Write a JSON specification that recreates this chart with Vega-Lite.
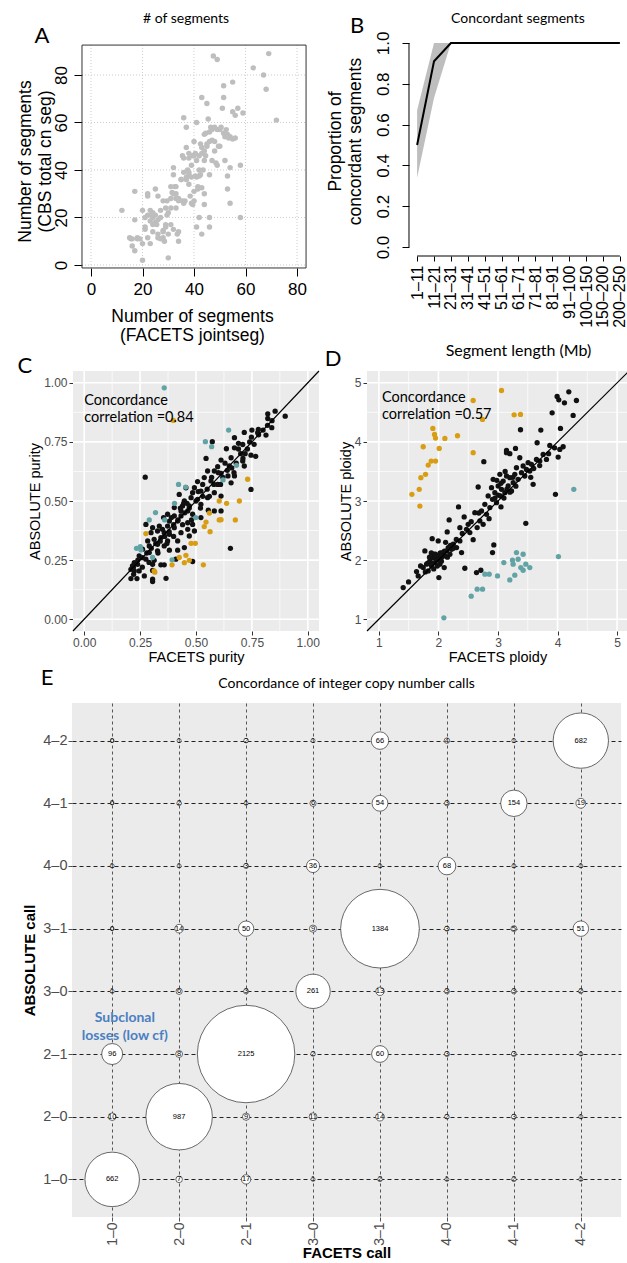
{
"$schema": "https://vega.github.io/schema/vega-lite/v6.json",
"background": "white",
"padding": {"left": 16, "top": 11, "right": 0, "bottom": 0},
"config": {
  "view": {"stroke": null},
  "axis": {"labelFont": "Liberation Sans", "titleFont": "Liberation Sans", "titleFontWeight": "normal", "labelFlush": false, "labelOverlap": false},
  "text": {"font": "Lato"}
},
"datasets": {
  "gridA": [{"t":0},{"t":20},{"t":40},{"t":60},{"t":80}],
  "segA": [
{"x":12,"y":23},{"x":15,"y":11.5},{"x":15.5,"y":11},{"x":16,"y":8},{"x":17,"y":6},{"x":17,"y":19},{"x":17,"y":31},{"x":18,"y":11.5},{"x":20,"y":2},{"x":20,"y":9},{"x":20,"y":23},{"x":21,"y":16},{"x":21,"y":15},{"x":22,"y":30},{"x":22,"y":29},{"x":22,"y":21},{"x":22,"y":11.5},{"x":23,"y":9},{"x":23,"y":23},{"x":23,"y":18.5},{"x":24,"y":14},{"x":24,"y":20},{"x":24.5,"y":21},{"x":25,"y":32},{"x":25,"y":18},{"x":25.5,"y":17},{"x":26,"y":13},{"x":26,"y":29},{"x":26,"y":11.5},{"x":27,"y":23},{"x":28,"y":14},{"x":28,"y":27},{"x":28,"y":11.5},{"x":28.5,"y":10},{"x":29,"y":17},{"x":29,"y":24},{"x":29.5,"y":21},{"x":29.5,"y":27},{"x":30,"y":3},{"x":30,"y":13},{"x":31,"y":33},{"x":31,"y":24},{"x":31,"y":17},{"x":31.5,"y":30.5},{"x":32,"y":38},{"x":32,"y":15},{"x":32,"y":41},{"x":32.5,"y":33},{"x":33,"y":24},{"x":33,"y":28},{"x":33.5,"y":13},{"x":34,"y":28},{"x":34,"y":10},{"x":34,"y":14},{"x":35,"y":36},{"x":35.5,"y":46},{"x":35.5,"y":27},{"x":36,"y":62},{"x":36,"y":39},{"x":36.5,"y":27},{"x":37,"y":58},{"x":37,"y":49.5},{"x":37,"y":37},{"x":37.5,"y":40},{"x":38,"y":47},{"x":38,"y":38},{"x":38,"y":34},{"x":38.5,"y":29},{"x":39,"y":26},{"x":39,"y":42},{"x":39.5,"y":46},{"x":39.5,"y":25.5},{"x":40,"y":31},{"x":40,"y":52},{"x":40.5,"y":37.5},{"x":40.5,"y":47},{"x":41,"y":60},{"x":41,"y":16},{"x":41,"y":44},{"x":41.5,"y":33},{"x":41.5,"y":32},{"x":42,"y":20},{"x":42,"y":37.5},{"x":42.5,"y":51},{"x":42.5,"y":38},{"x":43,"y":70.5},{"x":43,"y":13},{"x":43,"y":49.5},{"x":43,"y":32.5},{"x":43.5,"y":40},{"x":44,"y":44},{"x":44,"y":30},{"x":44,"y":25.5},{"x":44.5,"y":55.5},{"x":44.5,"y":46},{"x":45,"y":68},{"x":45,"y":51},{"x":45.5,"y":61.5},{"x":46,"y":38},{"x":46,"y":16},{"x":46,"y":20},{"x":46.5,"y":58},{"x":47,"y":52.5},{"x":47,"y":44},{"x":47.5,"y":88},{"x":48,"y":48},{"x":48.5,"y":43},{"x":49,"y":86.5},{"x":49,"y":57},{"x":49.5,"y":50},{"x":50.5,"y":58},{"x":51,"y":66},{"x":51.5,"y":55.5},{"x":51.5,"y":75.5},{"x":51.5,"y":70.5},{"x":52,"y":44},{"x":52.5,"y":55},{"x":52.5,"y":57},{"x":53,"y":37.5},{"x":53,"y":32},{"x":53.5,"y":53.5},{"x":54,"y":41},{"x":54,"y":26},{"x":55,"y":77},{"x":55,"y":64.5},{"x":56,"y":63},{"x":56,"y":53.5},{"x":57,"y":66},{"x":58,"y":42},{"x":58,"y":20},{"x":59,"y":64},{"x":63,"y":83},{"x":67,"y":80},{"x":68,"y":74},{"x":69,"y":89},{"x":72,"y":61},
{"x":19,"y":11},{"x":23,"y":21},{"x":24,"y":17},{"x":25,"y":21},{"x":26,"y":19},{"x":27,"y":11},{"x":28,"y":14.5},{"x":30,"y":22},{"x":29,"y":16},{"x":32,"y":30},{"x":33,"y":33},{"x":36,"y":26},{"x":38,"y":45},{"x":40,"y":46},{"x":42,"y":40},{"x":43,"y":47},{"x":46,"y":52},{"x":47,"y":57},{"x":48,"y":52},{"x":50,"y":57},{"x":52,"y":54},{"x":53,"y":55},{"x":54,"y":54},{"x":45,"y":50},{"x":44,"y":55},{"x":41,"y":37},{"x":39,"y":37},{"x":40,"y":27},{"x":37,"y":36},{"x":35,"y":36},{"x":33,"y":30},{"x":24,"y":22},{"x":18,"y":11},{"x":16,"y":11},{"x":21,"y":20},{"x":27,"y":20},{"x":31,"y":28},{"x":34,"y":27},{"x":36,"y":45},{"x":38,"y":39},{"x":42,"y":46},{"x":44,"y":48},{"x":46,"y":56},{"x":48,"y":58},{"x":49,"y":42},{"x":50,"y":50},{"x":53,"y":54},{"x":55,"y":53}
  ],
  "propB": [
{"len":"1–11","i":1,"p":0.5,"lo":0.34,"hi":0.67},
{"len":"11–21","i":2,"p":0.91,"lo":0.73,"hi":1.0},
{"len":"21–31","i":3,"p":1,"lo":1,"hi":1},
{"len":"31–41","i":4,"p":1,"lo":1,"hi":1},
{"len":"41–51","i":5,"p":1,"lo":1,"hi":1},
{"len":"51–61","i":6,"p":1,"lo":1,"hi":1},
{"len":"61–71","i":7,"p":1,"lo":1,"hi":1},
{"len":"71–81","i":8,"p":1,"lo":1,"hi":1},
{"len":"81–91","i":9,"p":1,"lo":1,"hi":1},
{"len":"91–100","i":10,"p":1,"lo":1,"hi":1},
{"len":"100–150","i":11,"p":1,"lo":1,"hi":1},
{"len":"150–200","i":12,"p":1,"lo":1,"hi":1},
{"len":"200–250","i":13,"p":1,"lo":1,"hi":1}
  ],
  "majorC": [{"v":0},{"v":0.25},{"v":0.5},{"v":0.75},{"v":1}],
  "minorC": [{"v":0.125},{"v":0.375},{"v":0.625},{"v":0.875}],
  "majorD": [{"v":1},{"v":2},{"v":3},{"v":4},{"v":5}],
  "minorD": [{"v":1.5},{"v":2.5},{"v":3.5},{"v":4.5}],
  "purityC": [
{"x":0.273,"y":0.601,"grp":"concordant"},{"x":0.654,"y":0.300,"grp":"concordant"},{"x":0.899,"y":0.859,"grp":"concordant"},{"x":0.854,"y":0.880,"grp":"concordant"},{"x":0.821,"y":0.869,"grp":"concordant"},{"x":0.821,"y":0.849,"grp":"concordant"},{"x":0.839,"y":0.810,"grp":"concordant"},{"x":0.779,"y":0.803,"grp":"concordant"},{"x":0.776,"y":0.789,"grp":"concordant"},{"x":0.813,"y":0.779,"grp":"concordant"},{"x":0.716,"y":0.790,"grp":"concordant"},{"x":0.748,"y":0.770,"grp":"concordant"},{"x":0.672,"y":0.768,"grp":"concordant"},{"x":0.690,"y":0.744,"grp":"concordant"},{"x":0.709,"y":0.739,"grp":"concordant"},{"x":0.573,"y":0.751,"grp":"concordant"},{"x":0.636,"y":0.721,"grp":"concordant"},{"x":0.672,"y":0.725,"grp":"concordant"},{"x":0.746,"y":0.694,"grp":"concordant"},{"x":0.767,"y":0.689,"grp":"concordant"},{"x":0.746,"y":0.549,"grp":"concordant"},{"x":0.545,"y":0.680,"grp":"concordant"},{"x":0.612,"y":0.673,"grp":"concordant"},{"x":0.657,"y":0.683,"grp":"concordant"},{"x":0.709,"y":0.669,"grp":"concordant"},{"x":0.716,"y":0.648,"grp":"concordant"},{"x":0.649,"y":0.648,"grp":"concordant"},{"x":0.597,"y":0.645,"grp":"concordant"},{"x":0.582,"y":0.627,"grp":"concordant"},{"x":0.552,"y":0.627,"grp":"concordant"},{"x":0.612,"y":0.617,"grp":"concordant"},{"x":0.643,"y":0.606,"grp":"concordant"},{"x":0.672,"y":0.606,"grp":"concordant"},{"x":0.537,"y":0.599,"grp":"concordant"},{"x":0.567,"y":0.585,"grp":"concordant"},{"x":0.507,"y":0.582,"grp":"concordant"},{"x":0.530,"y":0.570,"grp":"concordant"},{"x":0.597,"y":0.570,"grp":"concordant"},{"x":0.657,"y":0.577,"grp":"concordant"},{"x":0.522,"y":0.542,"grp":"concordant"},{"x":0.485,"y":0.535,"grp":"concordant"},{"x":0.582,"y":0.535,"grp":"concordant"},{"x":0.478,"y":0.514,"grp":"concordant"},{"x":0.552,"y":0.514,"grp":"concordant"},{"x":0.612,"y":0.521,"grp":"concordant"},{"x":0.507,"y":0.507,"grp":"concordant"},{"x":0.448,"y":0.500,"grp":"concordant"},{"x":0.440,"y":0.479,"grp":"concordant"},{"x":0.470,"y":0.479,"grp":"concordant"},{"x":0.522,"y":0.486,"grp":"concordant"},{"x":0.403,"y":0.472,"grp":"concordant"},{"x":0.433,"y":0.458,"grp":"concordant"},{"x":0.463,"y":0.458,"grp":"concordant"},{"x":0.612,"y":0.458,"grp":"concordant"},{"x":0.373,"y":0.444,"grp":"concordant"},{"x":0.403,"y":0.437,"grp":"concordant"},{"x":0.433,"y":0.437,"grp":"concordant"},{"x":0.485,"y":0.444,"grp":"concordant"},{"x":0.522,"y":0.430,"grp":"concordant"},{"x":0.355,"y":0.430,"grp":"concordant"},{"x":0.381,"y":0.415,"grp":"concordant"},{"x":0.418,"y":0.415,"grp":"concordant"},{"x":0.463,"y":0.408,"grp":"concordant"},{"x":0.485,"y":0.401,"grp":"concordant"},{"x":0.373,"y":0.394,"grp":"concordant"},{"x":0.336,"y":0.394,"grp":"concordant"},{"x":0.306,"y":0.387,"grp":"concordant"},{"x":0.403,"y":0.387,"grp":"concordant"},{"x":0.463,"y":0.380,"grp":"concordant"},{"x":0.493,"y":0.373,"grp":"concordant"},{"x":0.328,"y":0.373,"grp":"concordant"},{"x":0.358,"y":0.366,"grp":"concordant"},{"x":0.299,"y":0.366,"grp":"concordant"},{"x":0.276,"y":0.401,"grp":"concordant"},{"x":0.381,"y":0.359,"grp":"concordant"},{"x":0.433,"y":0.366,"grp":"concordant"},{"x":0.470,"y":0.352,"grp":"concordant"},{"x":0.343,"y":0.345,"grp":"concordant"},{"x":0.313,"y":0.338,"grp":"concordant"},{"x":0.284,"y":0.331,"grp":"concordant"},{"x":0.373,"y":0.331,"grp":"concordant"},{"x":0.418,"y":0.331,"grp":"concordant"},{"x":0.291,"y":0.310,"grp":"concordant"},{"x":0.328,"y":0.317,"grp":"concordant"},{"x":0.358,"y":0.310,"grp":"concordant"},{"x":0.381,"y":0.292,"grp":"concordant"},{"x":0.418,"y":0.292,"grp":"concordant"},{"x":0.261,"y":0.296,"grp":"concordant"},{"x":0.291,"y":0.282,"grp":"concordant"},{"x":0.328,"y":0.289,"grp":"concordant"},{"x":0.246,"y":0.268,"grp":"concordant"},{"x":0.276,"y":0.254,"grp":"concordant"},{"x":0.313,"y":0.249,"grp":"concordant"},{"x":0.224,"y":0.239,"grp":"concordant"},{"x":0.239,"y":0.232,"grp":"concordant"},{"x":0.216,"y":0.225,"grp":"concordant"},{"x":0.306,"y":0.232,"grp":"concordant"},{"x":0.343,"y":0.230,"grp":"concordant"},{"x":0.358,"y":0.230,"grp":"concordant"},{"x":0.209,"y":0.211,"grp":"concordant"},{"x":0.224,"y":0.204,"grp":"concordant"},{"x":0.246,"y":0.204,"grp":"concordant"},{"x":0.306,"y":0.206,"grp":"concordant"},{"x":0.221,"y":0.190,"grp":"concordant"},{"x":0.269,"y":0.183,"grp":"concordant"},{"x":0.209,"y":0.172,"grp":"concordant"},{"x":0.236,"y":0.172,"grp":"concordant"},{"x":0.306,"y":0.169,"grp":"concordant"},{"x":0.306,"y":0.159,"grp":"concordant"},{"x":0.366,"y":0.173,"grp":"concordant"},{"x":0.485,"y":0.244,"grp":"concordant"},{"x":0.448,"y":0.303,"grp":"concordant"},{"x":0.410,"y":0.254,"grp":"concordant"},{"x":0.425,"y":0.528,"grp":"concordant"},{"x":0.455,"y":0.556,"grp":"concordant"},{"x":0.493,"y":0.556,"grp":"concordant"},{"x":0.445,"y":0.490,"grp":"concordant"},{"x":0.582,"y":0.458,"grp":"concordant"},{"x":0.555,"y":0.461,"grp":"concordant"},
{"x":0.62,"y":0.60,"grp":"concordant"},{"x":0.64,"y":0.63,"grp":"concordant"},{"x":0.68,"y":0.66,"grp":"concordant"},{"x":0.70,"y":0.70,"grp":"concordant"},{"x":0.73,"y":0.72,"grp":"concordant"},{"x":0.74,"y":0.75,"grp":"concordant"},{"x":0.76,"y":0.74,"grp":"concordant"},{"x":0.78,"y":0.78,"grp":"concordant"},{"x":0.80,"y":0.80,"grp":"concordant"},{"x":0.82,"y":0.82,"grp":"concordant"},{"x":0.66,"y":0.64,"grp":"concordant"},{"x":0.60,"y":0.62,"grp":"concordant"},{"x":0.58,"y":0.57,"grp":"concordant"},{"x":0.55,"y":0.55,"grp":"concordant"},{"x":0.53,"y":0.52,"grp":"concordant"},{"x":0.50,"y":0.50,"grp":"concordant"},{"x":0.47,"y":0.47,"grp":"concordant"},{"x":0.45,"y":0.45,"grp":"concordant"},{"x":0.42,"y":0.42,"grp":"concordant"},{"x":0.40,"y":0.40,"grp":"concordant"},{"x":0.38,"y":0.37,"grp":"concordant"},{"x":0.36,"y":0.35,"grp":"concordant"},{"x":0.34,"y":0.33,"grp":"concordant"},{"x":0.32,"y":0.32,"grp":"concordant"},{"x":0.30,"y":0.30,"grp":"concordant"},{"x":0.28,"y":0.28,"grp":"concordant"},{"x":0.26,"y":0.26,"grp":"concordant"},{"x":0.24,"y":0.25,"grp":"concordant"},{"x":0.22,"y":0.22,"grp":"concordant"},{"x":0.35,"y":0.38,"grp":"concordant"},{"x":0.39,"y":0.43,"grp":"concordant"},{"x":0.43,"y":0.47,"grp":"concordant"},{"x":0.46,"y":0.49,"grp":"concordant"},{"x":0.51,"y":0.54,"grp":"concordant"},{"x":0.57,"y":0.60,"grp":"concordant"},{"x":0.63,"y":0.66,"grp":"concordant"},{"x":0.69,"y":0.72,"grp":"concordant"},{"x":0.71,"y":0.68,"grp":"concordant"},{"x":0.67,"y":0.62,"grp":"concordant"},{"x":0.61,"y":0.57,"grp":"concordant"},{"x":0.56,"y":0.52,"grp":"concordant"},{"x":0.52,"y":0.47,"grp":"concordant"},{"x":0.48,"y":0.42,"grp":"concordant"},{"x":0.44,"y":0.40,"grp":"concordant"},{"x":0.40,"y":0.35,"grp":"concordant"},{"x":0.37,"y":0.32,"grp":"concordant"},{"x":0.33,"y":0.28,"grp":"concordant"},{"x":0.29,"y":0.24,"grp":"concordant"},{"x":0.26,"y":0.22,"grp":"concordant"},{"x":0.84,"y":0.84,"grp":"concordant"},{"x":0.72,"y":0.70,"grp":"concordant"},{"x":0.75,"y":0.80,"grp":"concordant"},
{"x":0.358,"y":0.979,"grp":"discordant1"},{"x":0.542,"y":0.751,"grp":"discordant1"},{"x":0.570,"y":0.730,"grp":"discordant1"},{"x":0.646,"y":0.800,"grp":"discordant1"},{"x":0.681,"y":0.651,"grp":"discordant1"},{"x":0.621,"y":0.589,"grp":"discordant1"},{"x":0.422,"y":0.570,"grp":"discordant1"},{"x":0.454,"y":0.559,"grp":"discordant1"},{"x":0.404,"y":0.490,"grp":"discordant1"},{"x":0.319,"y":0.451,"grp":"discordant1"},{"x":0.291,"y":0.420,"grp":"discordant1"},{"x":0.360,"y":0.420,"grp":"discordant1"},{"x":0.499,"y":0.430,"grp":"discordant1"},{"x":0.251,"y":0.307,"grp":"discordant1"},{"x":0.234,"y":0.300,"grp":"discordant1"},{"x":0.254,"y":0.293,"grp":"discordant1"},{"x":0.306,"y":0.261,"grp":"discordant1"},{"x":0.393,"y":0.251,"grp":"discordant1"},
{"x":0.399,"y":0.841,"grp":"discordant2"},{"x":0.731,"y":0.592,"grp":"discordant2"},{"x":0.694,"y":0.500,"grp":"discordant2"},{"x":0.604,"y":0.500,"grp":"discordant2"},{"x":0.637,"y":0.490,"grp":"discordant2"},{"x":0.560,"y":0.449,"grp":"discordant2"},{"x":0.545,"y":0.411,"grp":"discordant2"},{"x":0.537,"y":0.392,"grp":"discordant2"},{"x":0.563,"y":0.370,"grp":"discordant2"},{"x":0.612,"y":0.421,"grp":"discordant2"},{"x":0.604,"y":0.420,"grp":"discordant2"},{"x":0.676,"y":0.420,"grp":"discordant2"},{"x":0.276,"y":0.362,"grp":"discordant2"},{"x":0.478,"y":0.321,"grp":"discordant2"},{"x":0.497,"y":0.321,"grp":"discordant2"},{"x":0.455,"y":0.270,"grp":"discordant2"},{"x":0.425,"y":0.261,"grp":"discordant2"},{"x":0.448,"y":0.239,"grp":"discordant2"},{"x":0.470,"y":0.249,"grp":"discordant2"},{"x":0.393,"y":0.230,"grp":"discordant2"},{"x":0.533,"y":0.230,"grp":"discordant2"},{"x":0.313,"y":0.204,"grp":"discordant2"},{"x":0.316,"y":0.199,"grp":"discordant2"}
  ],
  "ploidyD": [
{"x":1.408,"y":1.535,"grp":"concordant"},{"x":1.498,"y":1.631,"grp":"concordant"},{"x":1.660,"y":1.732,"grp":"concordant"},{"x":1.772,"y":2.155,"grp":"concordant"},{"x":1.895,"y":2.363,"grp":"concordant"},{"x":1.996,"y":2.324,"grp":"concordant"},{"x":2.097,"y":1.873,"grp":"concordant"},{"x":2.007,"y":1.704,"grp":"concordant"},{"x":2.180,"y":2.679,"grp":"concordant"},{"x":2.147,"y":2.476,"grp":"concordant"},{"x":2.337,"y":2.899,"grp":"concordant"},{"x":2.432,"y":2.730,"grp":"concordant"},{"x":2.443,"y":1.862,"grp":"concordant"},{"x":2.583,"y":2.346,"grp":"concordant"},{"x":2.667,"y":3.237,"grp":"concordant"},{"x":2.678,"y":2.797,"grp":"concordant"},{"x":2.762,"y":3.665,"grp":"concordant"},{"x":2.930,"y":2.256,"grp":"concordant"},{"x":2.908,"y":2.127,"grp":"concordant"},{"x":2.639,"y":1.789,"grp":"concordant"},{"x":2.712,"y":1.828,"grp":"concordant"},{"x":3.378,"y":4.206,"grp":"concordant"},{"x":3.467,"y":2.623,"grp":"concordant"},{"x":3.909,"y":4.493,"grp":"concordant"},{"x":3.993,"y":4.769,"grp":"concordant"},{"x":4.021,"y":4.713,"grp":"concordant"},{"x":4.116,"y":4.662,"grp":"concordant"},{"x":4.189,"y":4.848,"grp":"concordant"},{"x":4.262,"y":4.448,"grp":"concordant"},{"x":4.317,"y":4.701,"grp":"concordant"},{"x":4.049,"y":4.228,"grp":"concordant"},{"x":3.965,"y":3.113,"grp":"concordant"},{"x":4.094,"y":3.918,"grp":"concordant"},{"x":4.010,"y":3.744,"grp":"concordant"},{"x":3.870,"y":3.941,"grp":"concordant"},{"x":4.038,"y":3.873,"grp":"concordant"},{"x":3.719,"y":4.200,"grp":"concordant"},{"x":3.657,"y":3.986,"grp":"concordant"},{"x":3.294,"y":3.890,"grp":"concordant"},{"x":3.143,"y":3.856,"grp":"concordant"},{"x":3.143,"y":3.817,"grp":"concordant"},{"x":3.199,"y":3.800,"grp":"concordant"},
{"x":1.744,"y":1.873,"grp":"concordant"},{"x":1.800,"y":1.930,"grp":"concordant"},{"x":1.828,"y":1.817,"grp":"concordant"},{"x":1.856,"y":1.986,"grp":"concordant"},{"x":1.884,"y":1.901,"grp":"concordant"},{"x":1.912,"y":2.042,"grp":"concordant"},{"x":1.923,"y":2.099,"grp":"concordant"},{"x":1.940,"y":1.958,"grp":"concordant"},{"x":1.968,"y":2.014,"grp":"concordant"},{"x":1.996,"y":2.070,"grp":"concordant"},{"x":2.024,"y":1.930,"grp":"concordant"},{"x":2.052,"y":2.042,"grp":"concordant"},{"x":2.069,"y":2.127,"grp":"concordant"},{"x":2.108,"y":2.070,"grp":"concordant"},{"x":2.136,"y":2.155,"grp":"concordant"},{"x":2.164,"y":2.211,"grp":"concordant"},{"x":2.192,"y":2.099,"grp":"concordant"},{"x":2.220,"y":2.183,"grp":"concordant"},{"x":2.248,"y":2.268,"grp":"concordant"},{"x":2.304,"y":2.211,"grp":"concordant"},{"x":2.360,"y":2.324,"grp":"concordant"},{"x":2.388,"y":2.127,"grp":"concordant"},{"x":2.471,"y":2.521,"grp":"concordant"},{"x":2.499,"y":2.606,"grp":"concordant"},{"x":2.527,"y":2.465,"grp":"concordant"},{"x":2.611,"y":2.803,"grp":"concordant"},{"x":2.695,"y":2.662,"grp":"concordant"},{"x":2.723,"y":2.831,"grp":"concordant"},{"x":2.751,"y":2.606,"grp":"concordant"},{"x":2.779,"y":2.944,"grp":"concordant"},{"x":2.807,"y":2.775,"grp":"concordant"},{"x":2.835,"y":3.085,"grp":"concordant"},{"x":2.863,"y":2.887,"grp":"concordant"},{"x":2.891,"y":3.225,"grp":"concordant"},{"x":2.908,"y":3.028,"grp":"concordant"},{"x":2.919,"y":3.366,"grp":"concordant"},{"x":2.947,"y":3.141,"grp":"concordant"},{"x":2.975,"y":2.972,"grp":"concordant"},{"x":3.003,"y":3.254,"grp":"concordant"},{"x":3.031,"y":3.451,"grp":"concordant"},{"x":3.042,"y":3.085,"grp":"concordant"},{"x":3.059,"y":3.197,"grp":"concordant"},{"x":3.087,"y":3.338,"grp":"concordant"},{"x":3.115,"y":3.141,"grp":"concordant"},{"x":3.143,"y":3.423,"grp":"concordant"},{"x":3.171,"y":3.254,"grp":"concordant"},{"x":3.199,"y":3.394,"grp":"concordant"},{"x":3.227,"y":3.169,"grp":"concordant"},{"x":3.255,"y":3.310,"grp":"concordant"},{"x":3.282,"y":3.451,"grp":"concordant"},{"x":3.310,"y":3.563,"grp":"concordant"},{"x":3.338,"y":3.366,"grp":"concordant"},{"x":3.366,"y":3.732,"grp":"concordant"},{"x":3.394,"y":3.479,"grp":"concordant"},{"x":3.422,"y":3.592,"grp":"concordant"},{"x":3.450,"y":3.423,"grp":"concordant"},{"x":3.478,"y":3.535,"grp":"concordant"},{"x":3.506,"y":3.648,"grp":"concordant"},{"x":3.534,"y":3.507,"grp":"concordant"},{"x":3.562,"y":3.620,"grp":"concordant"},{"x":3.590,"y":3.282,"grp":"concordant"},{"x":3.646,"y":3.704,"grp":"concordant"},{"x":3.702,"y":3.676,"grp":"concordant"},{"x":3.758,"y":3.789,"grp":"concordant"},{"x":3.814,"y":3.704,"grp":"concordant"},{"x":2.360,"y":2.549,"grp":"concordant"},{"x":1.632,"y":1.806,"grp":"concordant"},{"x":1.70,"y":1.90,"grp":"concordant"},{"x":1.78,"y":1.80,"grp":"concordant"},
{"x":1.85,"y":2.05,"grp":"concordant"},{"x":1.90,"y":1.95,"grp":"concordant"},{"x":1.95,"y":2.10,"grp":"concordant"},{"x":2.00,"y":2.00,"grp":"concordant"},{"x":2.05,"y":1.98,"grp":"concordant"},{"x":2.10,"y":2.15,"grp":"concordant"},{"x":2.15,"y":2.05,"grp":"concordant"},{"x":2.20,"y":2.25,"grp":"concordant"},{"x":1.92,"y":1.85,"grp":"concordant"},{"x":1.98,"y":1.90,"grp":"concordant"},{"x":2.03,"y":2.12,"grp":"concordant"},{"x":1.88,"y":2.12,"grp":"concordant"},{"x":1.82,"y":1.95,"grp":"concordant"},{"x":2.12,"y":2.30,"grp":"concordant"},{"x":2.25,"y":2.20,"grp":"concordant"},{"x":2.30,"y":2.35,"grp":"concordant"},{"x":2.40,"y":2.45,"grp":"concordant"},{"x":2.95,"y":3.05,"grp":"concordant"},{"x":3.00,"y":3.10,"grp":"concordant"},{"x":3.05,"y":3.30,"grp":"concordant"},{"x":3.10,"y":3.05,"grp":"concordant"},{"x":3.15,"y":3.20,"grp":"concordant"},{"x":3.20,"y":3.15,"grp":"concordant"},{"x":3.25,"y":3.40,"grp":"concordant"},{"x":3.30,"y":3.25,"grp":"concordant"},{"x":3.05,"y":2.90,"grp":"concordant"},{"x":2.98,"y":3.35,"grp":"concordant"},{"x":3.12,"y":3.50,"grp":"concordant"},{"x":3.60,"y":3.55,"grp":"concordant"},{"x":3.70,"y":3.60,"grp":"concordant"},{"x":3.85,"y":3.80,"grp":"concordant"},{"x":3.95,"y":3.90,"grp":"concordant"},{"x":3.55,"y":3.40,"grp":"concordant"},{"x":2.85,"y":2.70,"grp":"concordant"},{"x":2.65,"y":2.55,"grp":"concordant"},{"x":2.55,"y":2.65,"grp":"concordant"},
{"x":4.273,"y":3.197,"grp":"discordant1"},{"x":4.015,"y":2.059,"grp":"discordant1"},{"x":3.310,"y":2.127,"grp":"discordant1"},{"x":3.422,"y":2.099,"grp":"discordant1"},{"x":3.243,"y":1.997,"grp":"discordant1"},{"x":3.338,"y":2.014,"grp":"discordant1"},{"x":3.098,"y":1.958,"grp":"discordant1"},{"x":3.254,"y":1.930,"grp":"discordant1"},{"x":3.467,"y":1.930,"grp":"discordant1"},{"x":3.534,"y":1.873,"grp":"discordant1"},{"x":3.383,"y":1.873,"grp":"discordant1"},{"x":3.422,"y":1.828,"grp":"discordant1"},{"x":2.779,"y":1.761,"grp":"discordant1"},{"x":2.852,"y":1.761,"grp":"discordant1"},{"x":2.992,"y":1.732,"grp":"discordant1"},{"x":3.282,"y":1.744,"grp":"discordant1"},{"x":3.198,"y":1.665,"grp":"discordant1"},{"x":2.650,"y":1.507,"grp":"discordant1"},{"x":2.740,"y":1.507,"grp":"discordant1"},{"x":2.550,"y":1.389,"grp":"discordant1"},{"x":2.091,"y":1.023,"grp":"discordant1"},
{"x":1.554,"y":3.113,"grp":"discordant2"},{"x":1.677,"y":3.197,"grp":"discordant2"},{"x":1.688,"y":2.915,"grp":"discordant2"},{"x":1.705,"y":3.394,"grp":"discordant2"},{"x":1.783,"y":3.451,"grp":"discordant2"},{"x":1.744,"y":3.918,"grp":"discordant2"},{"x":1.828,"y":3.608,"grp":"discordant2"},{"x":1.878,"y":3.676,"grp":"discordant2"},{"x":1.951,"y":3.676,"grp":"discordant2"},{"x":1.906,"y":4.228,"grp":"discordant2"},{"x":1.934,"y":4.127,"grp":"discordant2"},{"x":1.951,"y":4.065,"grp":"discordant2"},{"x":2.013,"y":3.890,"grp":"discordant2"},{"x":2.108,"y":4.059,"grp":"discordant2"},{"x":2.320,"y":4.104,"grp":"discordant2"},{"x":2.583,"y":3.817,"grp":"discordant2"},{"x":2.583,"y":4.701,"grp":"discordant2"},{"x":3.059,"y":4.870,"grp":"discordant2"},{"x":3.271,"y":4.459,"grp":"discordant2"},{"x":3.378,"y":4.465,"grp":"discordant2"},{"x":2.740,"y":4.380,"grp":"discordant2"}
  ],
  "cnE": [
{"facets":"1–0","absolute":"4–2","fi":1,"ai":8,"n":0},{"facets":"2–0","absolute":"4–2","fi":2,"ai":8,"n":1},{"facets":"2–1","absolute":"4–2","fi":3,"ai":8,"n":2},{"facets":"3–0","absolute":"4–2","fi":4,"ai":8,"n":1},{"facets":"3–1","absolute":"4–2","fi":5,"ai":8,"n":66},{"facets":"4–0","absolute":"4–2","fi":6,"ai":8,"n":4},{"facets":"4–1","absolute":"4–2","fi":7,"ai":8,"n":1},{"facets":"4–2","absolute":"4–2","fi":8,"ai":8,"n":682},
{"facets":"1–0","absolute":"4–1","fi":1,"ai":7,"n":0},{"facets":"2–0","absolute":"4–1","fi":2,"ai":7,"n":2},{"facets":"2–1","absolute":"4–1","fi":3,"ai":7,"n":1},{"facets":"3–0","absolute":"4–1","fi":4,"ai":7,"n":6},{"facets":"3–1","absolute":"4–1","fi":5,"ai":7,"n":54},{"facets":"4–0","absolute":"4–1","fi":6,"ai":7,"n":3},{"facets":"4–1","absolute":"4–1","fi":7,"ai":7,"n":154},{"facets":"4–2","absolute":"4–1","fi":8,"ai":7,"n":19},
{"facets":"1–0","absolute":"4–0","fi":1,"ai":6,"n":1},{"facets":"2–0","absolute":"4–0","fi":2,"ai":6,"n":1},{"facets":"2–1","absolute":"4–0","fi":3,"ai":6,"n":3},{"facets":"3–0","absolute":"4–0","fi":4,"ai":6,"n":36},{"facets":"3–1","absolute":"4–0","fi":5,"ai":6,"n":1},{"facets":"4–0","absolute":"4–0","fi":6,"ai":6,"n":68},{"facets":"4–1","absolute":"4–0","fi":7,"ai":6,"n":1},{"facets":"4–2","absolute":"4–0","fi":8,"ai":6,"n":1},
{"facets":"1–0","absolute":"3–1","fi":1,"ai":5,"n":0},{"facets":"2–0","absolute":"3–1","fi":2,"ai":5,"n":14},{"facets":"2–1","absolute":"3–1","fi":3,"ai":5,"n":50},{"facets":"3–0","absolute":"3–1","fi":4,"ai":5,"n":9},{"facets":"3–1","absolute":"3–1","fi":5,"ai":5,"n":1384},{"facets":"4–0","absolute":"3–1","fi":6,"ai":5,"n":3},{"facets":"4–1","absolute":"3–1","fi":7,"ai":5,"n":5},{"facets":"4–2","absolute":"3–1","fi":8,"ai":5,"n":51},
{"facets":"1–0","absolute":"3–0","fi":1,"ai":4,"n":1},{"facets":"2–0","absolute":"3–0","fi":2,"ai":4,"n":6},{"facets":"2–1","absolute":"3–0","fi":3,"ai":4,"n":3},{"facets":"3–0","absolute":"3–0","fi":4,"ai":4,"n":261},{"facets":"3–1","absolute":"3–0","fi":5,"ai":4,"n":13},{"facets":"4–0","absolute":"3–0","fi":6,"ai":4,"n":3},{"facets":"4–1","absolute":"3–0","fi":7,"ai":4,"n":3},{"facets":"4–2","absolute":"3–0","fi":8,"ai":4,"n":2},
{"facets":"1–0","absolute":"2–1","fi":1,"ai":3,"n":96},{"facets":"2–0","absolute":"2–1","fi":2,"ai":3,"n":8},{"facets":"2–1","absolute":"2–1","fi":3,"ai":3,"n":2125},{"facets":"3–0","absolute":"2–1","fi":4,"ai":3,"n":2},{"facets":"3–1","absolute":"2–1","fi":5,"ai":3,"n":60},{"facets":"4–0","absolute":"2–1","fi":6,"ai":3,"n":3},{"facets":"4–1","absolute":"2–1","fi":7,"ai":3,"n":3},{"facets":"4–2","absolute":"2–1","fi":8,"ai":3,"n":1},
{"facets":"1–0","absolute":"2–0","fi":1,"ai":2,"n":10},{"facets":"2–0","absolute":"2–0","fi":2,"ai":2,"n":987},{"facets":"2–1","absolute":"2–0","fi":3,"ai":2,"n":9},{"facets":"3–0","absolute":"2–0","fi":4,"ai":2,"n":11},{"facets":"3–1","absolute":"2–0","fi":5,"ai":2,"n":14},{"facets":"4–0","absolute":"2–0","fi":6,"ai":2,"n":2},{"facets":"4–1","absolute":"2–0","fi":7,"ai":2,"n":3},{"facets":"4–2","absolute":"2–0","fi":8,"ai":2,"n":1},
{"facets":"1–0","absolute":"1–0","fi":1,"ai":1,"n":662},{"facets":"2–0","absolute":"1–0","fi":2,"ai":1,"n":7},{"facets":"2–1","absolute":"1–0","fi":3,"ai":1,"n":17},{"facets":"3–0","absolute":"1–0","fi":4,"ai":1,"n":1},{"facets":"3–1","absolute":"1–0","fi":5,"ai":1,"n":2},{"facets":"4–0","absolute":"1–0","fi":6,"ai":1,"n":1},{"facets":"4–1","absolute":"1–0","fi":7,"ai":1,"n":2},{"facets":"4–2","absolute":"1–0","fi":8,"ai":1,"n":1}
  ]
},
"bounds": "flush",
"spacing": 72,
"vconcat": [
 {
  "width": 556, "height": 264,
  "resolve": {"scale": {"x": "independent", "y": "independent"}},
  "layer": [
   {"layer": [
     {"data": {"name": "gridA"}, "mark": {"type": "rule", "color": "#cccccc", "strokeDash": [1, 2]},
      "encoding": {
       "x": {"field": "t", "type": "quantitative", "scale": {"domain": [-7.38, 208.5], "nice": false, "zero": false}},
       "y": {"datum": -1.26, "type": "quantitative", "scale": {"domain": [-14.32, 96.84], "nice": false, "zero": false}},
       "y2": {"datum": 92.6}}},
     {"data": {"name": "gridA"}, "mark": {"type": "rule", "color": "#cccccc", "strokeDash": [1, 2]},
      "encoding": {
       "y": {"field": "t", "type": "quantitative"},
       "x": {"datum": -3.5, "type": "quantitative"},
       "x2": {"datum": 83.5}}},
     {"data": {"name": "segA"}, "mark": {"type": "circle", "color": "#bebebe", "opacity": 1, "size": 30},
      "encoding": {
       "x": {"field": "x", "type": "quantitative",
             "axis": {"orient": "bottom", "values": [0, 20, 40, 60, 80], "offset": -31, "labelFontSize": 17, "labelColor": "#000", "labelPadding": 5, "tickColor": "#000", "tickSize": 8, "domain": false, "grid": false,
                      "title": ["Number of segments", "(FACETS jointseg)"], "titleFontSize": 17.5, "titleColor": "#000", "titleLineHeight": 19, "titlePadding": 10, "titleX": 120}},
       "y": {"field": "y", "type": "quantitative",
             "axis": {"orient": "left", "values": [0, 20, 40, 60, 80], "offset": -10, "labelAngle": -90, "labelAlign": "center", "labelBaseline": "bottom", "labelFontSize": 17, "labelColor": "#000", "labelPadding": 4, "tickColor": "#000", "tickSize": 8, "domain": false, "grid": false,
                      "title": ["Number of segments", "(CBS total cn seg)"], "titleFontSize": 17.5, "titleColor": "#000", "titleLineHeight": 20, "titlePadding": -2, "titleY": 126}}}},
     {"data": {"values": [{}]}, "mark": {"type": "rect", "fill": "transparent", "stroke": "#333", "strokeWidth": 1},
      "encoding": {"x": {"datum": -3.5, "type": "quantitative"}, "x2": {"datum": 83.5}, "y": {"datum": -1.26, "type": "quantitative"}, "y2": {"datum": 92.6}}},
     {"data": {"values": [{}]}, "mark": {"type": "text", "text": "A", "fontSize": 22, "align": "center", "baseline": "middle", "fill": "#000"},
      "encoding": {"x": {"datum": -19, "type": "quantitative"}, "y": {"datum": 96.4, "type": "quantitative"}}},
     {"data": {"values": [{}]}, "mark": {"type": "text", "text": "# of segments", "fontSize": 14, "align": "center", "baseline": "middle", "fill": "#000"},
      "encoding": {"x": {"datum": 36.9, "type": "quantitative"}, "y": {"datum": 103.58, "type": "quantitative"}}}
   ]},
   {"layer": [
     {"data": {"name": "propB"}, "mark": {"type": "area", "color": "#bebebe", "opacity": 1},
      "encoding": {
       "x": {"field": "i", "type": "quantitative", "scale": {"domain": [-19.423, 13.48], "nice": false, "zero": false},
             "axis": {"orient": "bottom", "offset": -43, "values": [1,2,3,4,5,6,7,8,9,10,11,12,13], "labelExpr": "['1–11','11–21','21–31','31–41','41–51','51–61','61–71','71–81','81–91','91–100','100–150','150–200','200–250'][datum.value-1]",
                      "labelAngle": -90, "labelAlign": "right", "labelBaseline": "middle", "labelFontSize": 16, "labelColor": "#000", "labelPadding": 4, "tickColor": "#000", "tickSize": 5, "domain": false, "grid": false,
                      "title": "Segment length (Mb)", "titleFont": "Lato", "titleFontSize": 16, "titleColor": "#000", "titleX": 446, "titleY": 86, "titleBaseline": "top", "titleAlign": "center"}},
       "y": {"field": "lo", "type": "quantitative", "scale": {"domain": [-0.2547, 1.039], "nice": false, "zero": false},
             "axis": {"orient": "left", "offset": -337, "values": [0, 0.2, 0.4, 0.6, 0.8, 1], "format": ".1f", "labelAngle": -90, "labelAlign": "center", "labelBaseline": "bottom", "labelFontSize": 17, "labelColor": "#000", "labelPadding": 10, "tickColor": "#000", "tickSize": 7, "domain": false, "grid": false,
                      "title": ["Proportion of", "concordant segments"], "titleFontSize": 17.5, "titleColor": "#000", "titleLineHeight": 20, "titlePadding": 10, "titleY": 106}},
       "y2": {"field": "hi"}}},
     {"data": {"name": "propB"}, "mark": {"type": "line", "color": "#000", "strokeWidth": 2},
      "encoding": {"x": {"field": "i", "type": "quantitative"}, "y": {"field": "p", "type": "quantitative"}}},
     {"data": {"values": [{}]}, "mark": {"type": "rule", "color": "#000", "strokeWidth": 1},
      "encoding": {"x": {"datum": 0.52, "type": "quantitative"}, "y": {"datum": 0.0001, "type": "quantitative"}, "y2": {"datum": 1}}},
     {"data": {"values": [{}]}, "mark": {"type": "rule", "color": "#000", "strokeWidth": 1},
      "encoding": {"x": {"datum": 1, "type": "quantitative"}, "x2": {"datum": 13}, "y": {"datum": -0.044, "type": "quantitative"}}},
     {"data": {"values": [{}]}, "mark": {"type": "text", "text": "B", "fontSize": 22, "align": "center", "baseline": "middle", "fill": "#000"},
      "encoding": {"x": {"datum": -2.557, "type": "quantitative"}, "y": {"datum": 1.083, "type": "quantitative"}}},
     {"data": {"values": [{}]}, "mark": {"type": "text", "text": "Concordant segments", "fontSize": 14, "align": "center", "baseline": "middle", "fill": "#000"},
      "encoding": {"x": {"datum": 6.97, "type": "quantitative"}, "y": {"datum": 1.1174, "type": "quantitative"}}}
   ]}
  ]
 },
 {
  "width": 557, "height": 260,
  "resolve": {"scale": {"x": "independent", "y": "independent"}},
  "layer": [
   {"layer": [
     {"data": {"values": [{}]}, "mark": {"type": "rect", "fill": "#ebebeb"},
      "encoding": {"x": {"datum": -0.05, "type": "quantitative", "scale": {"domain": [-0.0545, 2.4366], "nice": false, "zero": false}}, "x2": {"datum": 1.05},
                   "y": {"datum": -0.05, "type": "quantitative", "scale": {"domain": [-0.05, 1.05], "nice": false, "zero": false}}, "y2": {"datum": 1.05}}},
     {"data": {"name": "minorC"}, "mark": {"type": "rule", "color": "#ffffff", "strokeWidth": 0.7},
      "encoding": {"x": {"field": "v", "type": "quantitative"}, "y": {"datum": -0.05, "type": "quantitative"}, "y2": {"datum": 1.05}}},
     {"data": {"name": "minorC"}, "mark": {"type": "rule", "color": "#ffffff", "strokeWidth": 0.7},
      "encoding": {"y": {"field": "v", "type": "quantitative"}, "x": {"datum": -0.05, "type": "quantitative"}, "x2": {"datum": 1.05}}},
     {"data": {"name": "majorC"}, "mark": {"type": "rule", "color": "#ffffff", "strokeWidth": 1.6},
      "encoding": {"x": {"field": "v", "type": "quantitative"}, "y": {"datum": -0.05, "type": "quantitative"}, "y2": {"datum": 1.05}}},
     {"data": {"name": "majorC"}, "mark": {"type": "rule", "color": "#ffffff", "strokeWidth": 1.6},
      "encoding": {"y": {"field": "v", "type": "quantitative"}, "x": {"datum": -0.05, "type": "quantitative"}, "x2": {"datum": 1.05}}},
     {"data": {"name": "purityC"}, "mark": {"type": "circle", "size": 28, "opacity": 1},
      "encoding": {
       "x": {"field": "x", "type": "quantitative",
             "axis": {"orient": "bottom", "values": [0, 0.25, 0.5, 0.75, 1], "format": ".2f", "grid": false,
                      "tickColor": "#333", "tickSize": 4, "labelColor": "#4d4d4d", "labelFontSize": 12, "labelPadding": 2, "domain": false,
                      "title": "FACETS purity", "titleFontSize": 14.5, "titleColor": "#000", "titlePadding": 2, "titleX": 124}},
       "y": {"field": "y", "type": "quantitative",
             "axis": {"orient": "left", "offset": -1, "values": [0, 0.25, 0.5, 0.75, 1], "format": ".2f", "grid": false,
                      "tickColor": "#333", "tickSize": 4, "labelColor": "#4d4d4d", "labelFontSize": 12, "labelPadding": 2, "domain": false,
                      "title": "ABSOLUTE purity", "titleFontSize": 14.5, "titleColor": "#000", "titlePadding": 1}},
       "color": {"field": "grp", "type": "nominal", "scale": {"domain": ["concordant", "discordant1", "discordant2"], "range": ["#111111", "#62a3a5", "#d89d12"]}, "legend": null}}},
     {"data": {"values": [{}]}, "mark": {"type": "rule", "color": "#000", "strokeWidth": 1.2},
      "encoding": {"x": {"datum": -0.05, "type": "quantitative"}, "y": {"datum": -0.05, "type": "quantitative"}, "x2": {"datum": 1.05}, "y2": {"datum": 1.05}}},
     {"data": {"values": [{}]}, "mark": {"type": "text", "text": ["Concordance", "correlation =0.84"], "fontSize": 14.5, "lineHeight": 17, "align": "left", "baseline": "middle", "fill": "#000"},
      "encoding": {"x": {"datum": 0.0001, "type": "quantitative"}, "y": {"datum": 0.923, "type": "quantitative"}}},
     {"data": {"values": [{}]}, "mark": {"type": "text", "text": "C", "fontSize": 22, "align": "center", "baseline": "middle", "fill": "#000"},
      "encoding": {"x": {"datum": -0.265, "type": "quantitative"}, "y": {"datum": 1.071, "type": "quantitative"}}}
   ]},
   {"layer": [
     {"data": {"values": [{}]}, "mark": {"type": "rect", "fill": "#ebebeb"},
      "encoding": {"x": {"datum": 0.8, "type": "quantitative", "scale": {"domain": [-4.154, 5.2], "nice": false, "zero": false}}, "x2": {"datum": 5.2},
                   "y": {"datum": 0.8, "type": "quantitative", "scale": {"domain": [0.8, 5.2], "nice": false, "zero": false}}, "y2": {"datum": 5.2}}},
     {"data": {"name": "minorD"}, "mark": {"type": "rule", "color": "#ffffff", "strokeWidth": 0.7},
      "encoding": {"x": {"field": "v", "type": "quantitative"}, "y": {"datum": 0.8, "type": "quantitative"}, "y2": {"datum": 5.2}}},
     {"data": {"name": "minorD"}, "mark": {"type": "rule", "color": "#ffffff", "strokeWidth": 0.7},
      "encoding": {"y": {"field": "v", "type": "quantitative"}, "x": {"datum": 0.8, "type": "quantitative"}, "x2": {"datum": 5.2}}},
     {"data": {"name": "majorD"}, "mark": {"type": "rule", "color": "#ffffff", "strokeWidth": 1.6},
      "encoding": {"x": {"field": "v", "type": "quantitative"}, "y": {"datum": 0.8, "type": "quantitative"}, "y2": {"datum": 5.2}}},
     {"data": {"name": "majorD"}, "mark": {"type": "rule", "color": "#ffffff", "strokeWidth": 1.6},
      "encoding": {"y": {"field": "v", "type": "quantitative"}, "x": {"datum": 0.8, "type": "quantitative"}, "x2": {"datum": 5.2}}},
     {"data": {"name": "ploidyD"}, "mark": {"type": "circle", "size": 28, "opacity": 1},
      "encoding": {
       "x": {"field": "x", "type": "quantitative",
             "axis": {"orient": "bottom", "values": [1, 2, 3, 4, 5], "format": "d", "grid": false,
                      "tickColor": "#333", "tickSize": 4, "labelColor": "#4d4d4d", "labelFontSize": 12, "labelPadding": 2, "domain": false,
                      "title": "FACETS ploidy", "titleFontSize": 14.5, "titleColor": "#000", "titlePadding": 2, "titleX": 425.5}},
       "y": {"field": "y", "type": "quantitative",
             "axis": {"orient": "left", "offset": -295, "values": [1, 2, 3, 4, 5], "format": "d", "grid": false,
                      "tickColor": "#333", "tickSize": 4, "labelColor": "#4d4d4d", "labelFontSize": 12, "labelPadding": 2, "domain": false,
                      "title": "ABSOLUTE ploidy", "titleFontSize": 14.5, "titleColor": "#000", "titlePadding": 1}},
       "color": {"field": "grp", "type": "nominal", "scale": {"domain": ["concordant", "discordant1", "discordant2"], "range": ["#111111", "#62a3a5", "#d89d12"]}, "legend": null}}},
     {"data": {"values": [{}]}, "mark": {"type": "rule", "color": "#000", "strokeWidth": 1.2},
      "encoding": {"x": {"datum": 0.8, "type": "quantitative"}, "y": {"datum": 0.8, "type": "quantitative"}, "x2": {"datum": 5.2}, "y2": {"datum": 5.2}}},
     {"data": {"values": [{}]}, "mark": {"type": "text", "text": ["Concordance", "correlation =0.57"], "fontSize": 14.5, "lineHeight": 17, "align": "left", "baseline": "middle", "fill": "#000"},
      "encoding": {"x": {"datum": 1.052, "type": "quantitative"}, "y": {"datum": 4.743, "type": "quantitative"}}},
     {"data": {"values": [{}]}, "mark": {"type": "text", "text": "D", "fontSize": 22, "align": "center", "baseline": "middle", "fill": "#000"},
      "encoding": {"x": {"datum": 0.229, "type": "quantitative"}, "y": {"datum": 5.403, "type": "quantitative"}}}
   ]}
  ]
 },
 {
  "width": 549, "height": 514,
  "view": {"fill": "#ebebeb", "stroke": null},
  "layer": [
   {"data": {"name": "cnE"}, "mark": {"type": "circle", "fill": "#ffffff", "stroke": "#444444", "strokeWidth": 0.8, "opacity": 1, "fillOpacity": 1},
    "encoding": {
     "x": {"field": "fi", "type": "quantitative", "scale": {"domain": [0.4, 8.6], "nice": false, "zero": false},
           "axis": {"values": [1,2,3,4,5,6,7,8], "labelExpr": "['1–0','2–0','2–1','3–0','3–1','4–0','4–1','4–2'][datum.value-1]",
                    "labelAngle": -90, "labelAlign": "right", "labelBaseline": "middle", "labelFontSize": 14, "labelColor": "#4d4d4d", "labelPadding": 1,
                    "tickColor": "#555", "tickSize": 4, "domain": false, "grid": true, "gridColor": "#555555", "gridDash": [3, 3], "gridWidth": 1,
                    "title": "FACETS call", "titleFontSize": 15, "titleFontWeight": "bold", "titleColor": "#000", "titlePadding": 0}},
     "y": {"field": "ai", "type": "quantitative", "scale": {"domain": [0.4, 8.6], "nice": false, "zero": false},
           "axis": {"values": [1,2,3,4,5,6,7,8], "labelExpr": "['1–0','2–0','2–1','3–0','3–1','4–0','4–1','4–2'][datum.value-1]",
                    "labelFontSize": 14.5, "labelColor": "#4d4d4d", "labelPadding": 1,
                    "tickColor": "#555", "tickSize": 4, "domain": false, "grid": true, "gridColor": "#222222", "gridDash": [4, 3], "gridWidth": 1,
                    "title": "ABSOLUTE call", "titleFontSize": 15, "titleFontWeight": "bold", "titleColor": "#000", "titlePadding": 5}},
     "size": {"field": "n", "type": "quantitative", "scale": {"type": "linear", "domain": [0, 2125], "range": [12, 9500], "zero": false}, "legend": null}}},
   {"data": {"name": "cnE"}, "mark": {"type": "text", "font": "Liberation Sans", "fontSize": 7.5, "fill": "#000", "align": "center", "baseline": "middle"},
    "encoding": {"x": {"field": "fi", "type": "quantitative"}, "y": {"field": "ai", "type": "quantitative"}, "text": {"field": "n", "type": "quantitative", "format": "d"}}},
   {"data": {"values": [{}]}, "mark": {"type": "text", "text": ["Subclonal", "losses (low cf)"], "fontSize": 14, "fontWeight": "bold", "fill": "#4a7fc1", "lineHeight": 18, "align": "center", "baseline": "middle"},
    "encoding": {"x": {"datum": 1.19, "type": "quantitative"}, "y": {"datum": 3.574, "type": "quantitative"}}},
   {"data": {"values": [{}]}, "mark": {"type": "text", "text": "E", "fontSize": 22, "align": "center", "baseline": "middle", "fill": "#000"},
    "encoding": {"x": {"datum": 0.027, "type": "quantitative"}, "y": {"datum": 8.999, "type": "quantitative"}}},
   {"data": {"values": [{}]}, "mark": {"type": "text", "text": "Concordance of integer copy number calls", "fontSize": 14, "align": "center", "baseline": "middle", "fill": "#000"},
    "encoding": {"x": {"datum": 4.5, "type": "quantitative"}, "y": {"datum": 8.903, "type": "quantitative"}}}
  ]
 }
]
}
